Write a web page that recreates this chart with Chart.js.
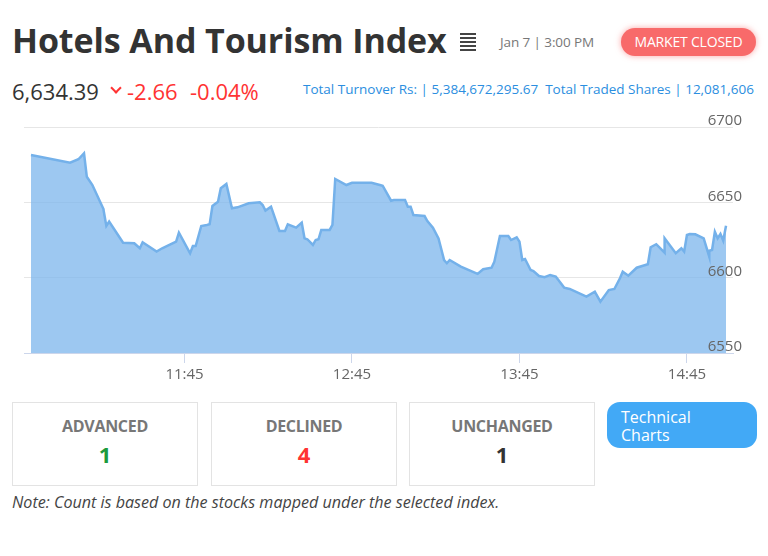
<!DOCTYPE html>
<html>
<head>
<meta charset="utf-8">
<script src="https://cdn.jsdelivr.net/npm/chart.js@4"></script>
<style>
  body { margin: 0; width: 768px; height: 556px; background: #fff; font-family: "Open Sans", sans-serif; position: relative; overflow: hidden; }
  .abs { position: absolute; white-space: nowrap; }
  #title { left: 12px; top: 17px; font-size: 34px; font-weight: 700; color: #333; letter-spacing: -0.1px; }
  #menu { left: 460px; top: 33px; width: 16px; }
  #menu div { height: 2px; background: #444; margin-bottom: 2px; }
  #date { left: 500px; top: 33px; font-size: 13.5px; color: #777; letter-spacing: -0.1px; }
  #pill { left: 621px; top: 28px; width: 135px; height: 28px; line-height: 28px; border-radius: 14px; background: #f86a6a; color: #fff; font-size: 14px; text-align: center; box-shadow: 0 0 6px rgba(248,106,106,0.6); letter-spacing: -0.2px; }
  #price { left: 12px; top: 76px; font-size: 22px; color: #333; }
  #caret { left: 112px; top: 84px; width: 6px; height: 6px; border-right: 2px solid #f33; border-bottom: 2px solid #f33; transform: rotate(45deg); }
  #chg { left: 127px; top: 76px; font-size: 22px; color: #f33; }
  #pct { left: 190px; top: 76px; font-size: 22px; color: #f33; }
  #stats { left: 303px; top: 80px; font-size: 13.5px; color: #2b8ee0; }
  #chart { position: absolute; left: 0; top: 100px; }
  .box { position: absolute; top: 402px; height: 82px; border: 1px solid #e3e3e3; text-align: center; }
  .box .lbl { margin-top: 12px; font-size: 16px; font-weight: 700; color: #777; letter-spacing: -0.3px; }
  .box .num { margin-top: 2px; font-size: 22px; font-weight: 700; }
  #tech { left: 607px; top: 402px; width: 136px; height: 46px; padding-left: 14px; border-radius: 13px; background: #42a9f6; color: #fff; font-size: 16px; line-height: 18px; }
  #tech span { display: block; padding-top: 6px; }
  #note { left: 12px; top: 491px; font-size: 16.1px; font-style: italic; color: #444; }
</style>
</head>
<body>
<div id="title" class="abs">Hotels And Tourism Index</div>
<div id="menu" class="abs"><div></div><div></div><div></div><div></div><div></div></div>
<div id="date" class="abs">Jan 7 | 3:00 PM</div>
<div id="pill" class="abs">MARKET CLOSED</div>
<div id="price" class="abs">6,634.39</div>
<div id="caret" class="abs"></div>
<div id="chg" class="abs">-2.66</div>
<div id="pct" class="abs">-0.04%</div>
<div id="stats" class="abs">Total Turnover Rs: | 5,384,672,295.67 &nbsp;Total Traded Shares | 12,081,606</div>
<canvas id="chart" width="768" height="300"></canvas>
<div class="box" style="left:12px;width:184px"><div class="lbl">ADVANCED</div><div class="num" style="color:#1c9a3c">1</div></div>
<div class="box" style="left:211px;width:184px"><div class="lbl">DECLINED</div><div class="num" style="color:#f33">4</div></div>
<div class="box" style="left:409px;width:184px"><div class="lbl">UNCHANGED</div><div class="num" style="color:#333">1</div></div>
<div id="tech" class="abs"><span>Technical<br>Charts</span></div>
<div id="note" class="abs">Note: Count is based on the stocks mapped under the selected index.</div>

<script>
// Serie intradía (hora, valor del índice)
const times = [
  "10:50", "11:04", "11:07", "11:09", "11:10", "11:12", "11:16", "11:16", "11:17", "11:18",
  "11:23", "11:27", "11:29", "11:30", "11:35", "11:37", "11:42", "11:43", "11:47", "11:48",
  "11:49", "11:51", "11:53", "11:54", "11:55", "11:57", "11:58", "12:00", "12:02", "12:04",
  "12:08", "12:12", "12:13", "12:14", "12:16", "12:19", "12:21", "12:22", "12:25", "12:27",
  "12:28", "12:29", "12:31", "12:32", "12:33", "12:34", "12:37", "12:38", "12:39", "12:43",
  "12:45", "12:52", "12:55", "12:56", "12:59", "13:00", "13:04", "13:05", "13:06", "13:07",
  "13:11", "13:12", "13:14", "13:16", "13:18", "13:19", "13:20", "13:24", "13:30", "13:32",
  "13:35", "13:36", "13:38", "13:41", "13:42", "13:44", "13:45", "13:46", "13:47", "13:49",
  "13:50", "13:52", "13:54", "13:56", "13:58", "14:01", "14:03", "14:09", "14:12", "14:14",
  "14:17", "14:19", "14:21", "14:22", "14:24", "14:27", "14:31", "14:32", "14:34", "14:37",
  "14:37", "14:41", "14:43", "14:44", "14:45", "14:46", "14:48", "14:51", "14:53", "14:53",
  "14:54", "14:55", "14:56", "14:57", "14:58", "14:59"
];
const values = [
  6681.4, 6676.3, 6678.6, 6682.5, 6667.0, 6661.5, 6645.4, 6644.9, 6634.3, 6637.2,
  6623.2, 6622.8, 6619.5, 6623.5, 6617.3, 6619.5, 6623.9, 6629.9, 6616.2, 6621.0,
  6621.0, 6634.3, 6635.0, 6635.4, 6647.6, 6650.4, 6659.3, 6662.2, 6646.1, 6646.7,
  6649.4, 6650.0, 6648.2, 6644.5, 6647.1, 6631.0, 6631.0, 6635.4, 6633.2, 6636.5,
  6626.1, 6625.5, 6621.7, 6625.0, 6625.5, 6631.7, 6631.7, 6635.0, 6665.5, 6661.5,
  6663.0, 6663.0, 6661.5, 6661.0, 6651.1, 6651.6, 6651.6, 6647.1, 6647.1, 6641.6,
  6640.9, 6637.6, 6633.2, 6626.1, 6611.7, 6609.6, 6611.7, 6607.3, 6602.5, 6605.6,
  6606.6, 6610.6, 6627.7, 6627.7, 6625.0, 6626.8, 6623.9, 6611.7, 6612.4, 6605.1,
  6604.4, 6601.1, 6600.3, 6601.8, 6600.7, 6593.4, 6592.5, 6587.4, 6590.7, 6584.1,
  6591.8, 6592.5, 6599.6, 6604.0, 6601.3, 6606.6, 6608.9, 6620.2, 6622.2, 6616.6,
  6626.1, 6616.2, 6619.5, 6617.3, 6628.3, 6629.0, 6628.8, 6626.1, 6613.9, 6617.9,
  6618.4, 6630.5, 6626.1, 6629.0, 6624.6, 6634.39
];
const xTicks = ["11:45", "12:45", "13:45", "14:45"];
const yTicks = [6550, 6600, 6650, 6700];

function aMinutos(t) {
  const p = t.split(":");
  return parseInt(p[0]) * 60 + parseInt(p[1]);
}
function aHora(m) {
  const h = Math.floor(m / 60);
  const mm = Math.round(m % 60);
  return h + ":" + String(mm).padStart(2, "0");
}

const puntos = times.map((t, i) => ({ x: aMinutos(t), y: values[i] }));

new Chart(document.getElementById("chart"), {
  type: "line",
  data: {
    datasets: [{
      data: puntos,
      borderColor: "#74b1ea",
      backgroundColor: "rgba(124,181,236,0.75)",
      borderWidth: 2.5,
      pointRadius: 0,
      tension: 0,
      fill: "start"
    }]
  },
  options: {
    responsive: false,
    animation: false,
    layout: { padding: { left: 24, top: 27, right: 0, bottom: 0 } },
    plugins: { legend: { display: false }, tooltip: { enabled: false } },
    scales: {
      x: {
        type: "linear",
        min: aMinutos("10:47") + 0.5,
        max: aMinutos("15:01") + 0.5,
        afterBuildTicks: s => { s.ticks = xTicks.map(t => ({ value: aMinutos(t) })); },
        afterFit: s => { s.height = 47; },
        ticks: {
          autoSkip: false, maxRotation: 0, padding: 3,
          color: "#666", font: { family: "Open Sans", size: 15 },
          callback: v => aHora(v)
        },
        grid: { drawOnChartArea: false, color: "#ccd6eb", tickLength: 10 },
        border: { color: "#ccd6eb" }
      },
      y: {
        position: "right",
        min: 6550,
        max: 6700,
        afterBuildTicks: s => { s.ticks = yTicks.map(v => ({ value: v })); },
        afterFit: s => { s.width = 35; },
        ticks: {
          z: 1, mirror: true, padding: 9, labelOffset: -6,
          color: "#666", font: { family: "Open Sans", size: 15 },
          callback: v => String(v)
        },
        grid: { color: "#e6e6e6", drawTicks: false },
        border: { display: false }
      }
    }
  }
});
</script>
</body>
</html>
